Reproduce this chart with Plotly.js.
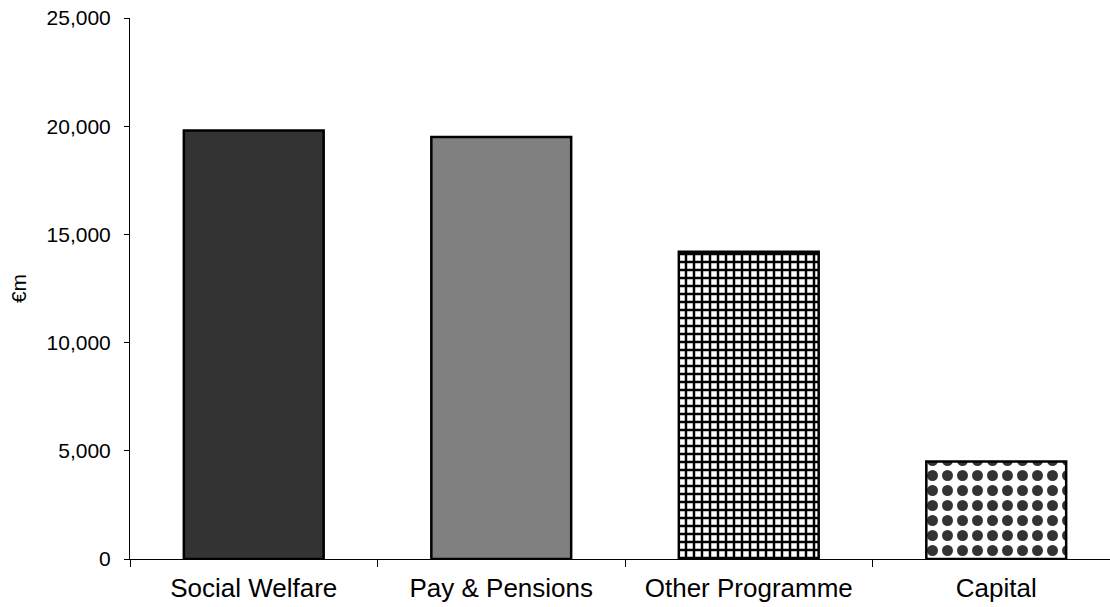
<!DOCTYPE html>
<html>
<head>
<meta charset="utf-8">
<script src="https://cdn.plot.ly/plotly-3.0.1.min.js"></script>
<style>
html,body{margin:0;padding:0;overflow:hidden;background:#fff;}
#chart{width:1120px;height:607px;}
</style>
</head>
<body>
<div id="chart"></div>
<script>
const categories = ["Social Welfare", "Pay & Pensions", "Other Programme", "Capital"];
const spending = [19800, 19500, 14200, 4500];
const yTickValues = [0, 5000, 10000, 15000, 20000, 25000];
const yTickLabels = ["0", "5,000", "10,000", "15,000", "20,000", "25,000"];
const yAxisLabel = "€m";

const fillColors = ["#333333", "#808080", "#ffffff", "#ffffff"];
const patternShapes = ["", "", "+", "."];
const patternFg = ["#333333", "#808080", "#000000", "#333333"];
const patternSizes = [8, 8, 8, 15];
const patternSolidity = [0.5, 0.5, 0.52, 0.42];

const traces = categories.map((cat, i) => {
  const marker = {
    color: fillColors[i],
    line: {color: "#000000", width: 2.5}
  };
  if (patternShapes[i]) {
    marker.pattern = {
      shape: patternShapes[i],
      fgcolor: patternFg[i],
      bgcolor: "#ffffff",
      size: patternSizes[i],
      solidity: patternSolidity[i],
      fgopacity: 1
    };
  }
  return {
    type: "bar",
    x: [cat],
    y: [spending[i]],
    width: 0.565,
    marker: marker,
    hoverinfo: "x+y"
  };
});

const layout = {
  width: 1120,
  height: 607,
  margin: {l: 130, r: 0, t: 18, b: 48},
  paper_bgcolor: "#ffffff",
  plot_bgcolor: "#ffffff",
  showlegend: false,
  barmode: "overlay",
  font: {family: "Liberation Sans, Arial, sans-serif", color: "#000000"},
  xaxis: {
    type: "category",
    categoryarray: categories,
    categoryorder: "array",
    showline: true,
    linecolor: "#000000",
    linewidth: 1,
    ticks: "outside",
    tickson: "boundaries",
    ticklen: 7,
    tickcolor: "#000000",
    tickwidth: 1,
    ticklabelstandoff: 6,
    showgrid: false,
    tickfont: {size: 26, family: "Liberation Sans, Arial, sans-serif"},
    fixedrange: true
  },
  yaxis: {
    range: [0, 25000],
    tickvals: yTickValues,
    ticktext: yTickLabels,
    showline: true,
    linecolor: "#000000",
    linewidth: 1,
    ticks: "outside",
    ticklen: 5,
    tickcolor: "#000000",
    ticklabelstandoff: 9,
    showgrid: false,
    zeroline: false,
    tickfont: {size: 21, family: "Liberation Sans, Arial, sans-serif"},
    title: {text: yAxisLabel, font: {size: 21}, standoff: 14},
    fixedrange: true
  }
};

Plotly.newPlot("chart", traces, layout, {displayModeBar: false, staticPlot: true});
</script>
</body>
</html>
